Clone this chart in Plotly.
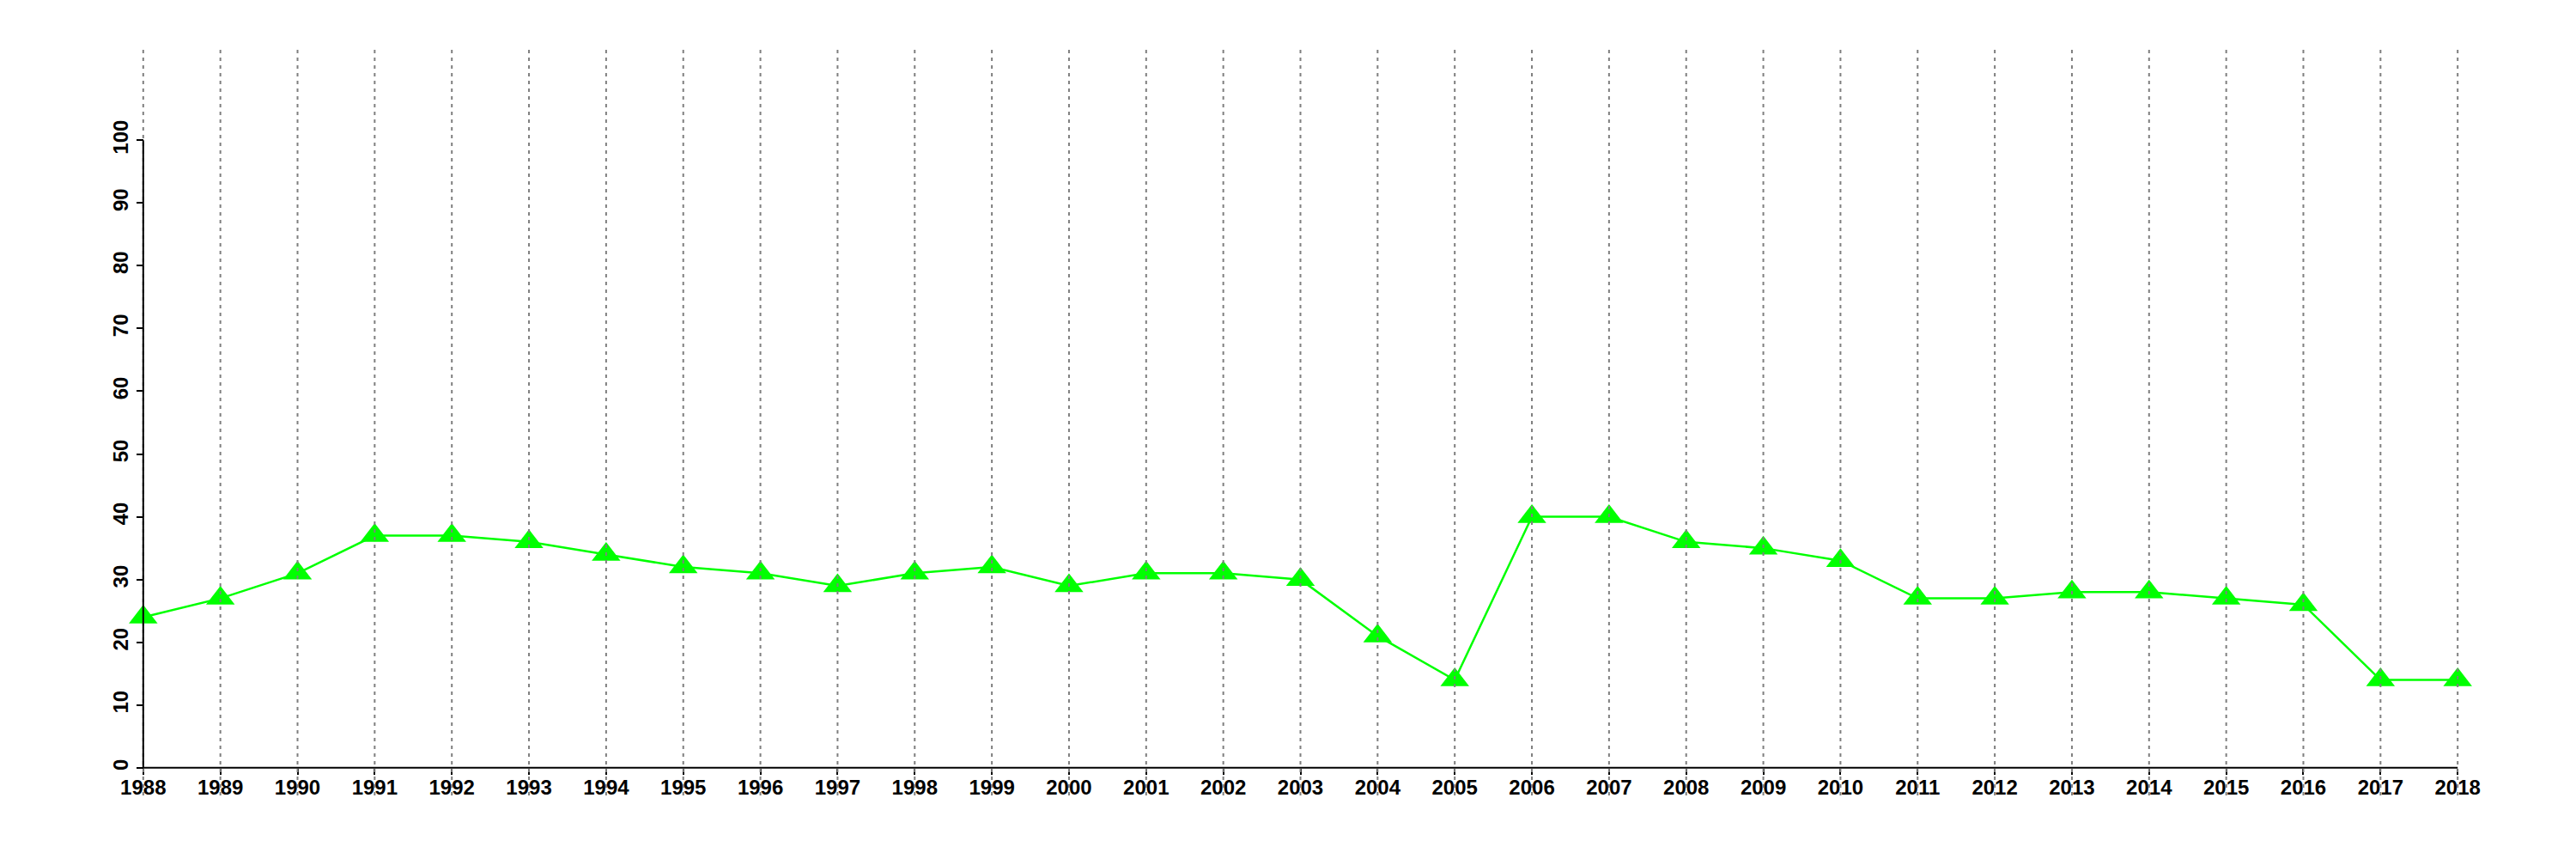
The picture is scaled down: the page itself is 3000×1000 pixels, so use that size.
import plotly.graph_objects as go

years = list(range(1988, 2019))
values = [24, 27, 31, 37, 37, 36, 34, 32, 31, 29, 31, 32, 29, 31, 31, 30, 21, 14,
          40, 40, 36, 35, 33, 27, 27, 28, 28, 27, 26, 14, 14]
y_ticks = list(range(0, 101, 10))

x_range = [years[0] - 1.2, years[-1] + 1.2]
y_range = [-4.4, 114.4]

fig = go.Figure()
fig.add_trace(go.Scatter(
    x=years, y=values, mode="lines+markers",
    line=dict(color="#00ff00", width=2.5),
    marker=dict(symbol="triangle-up", size=29, color="#00ff00", line=dict(width=0)),
    showlegend=False, hoverinfo="skip",
))

shapes = []
for yr in years:
    shapes.append(dict(type="line", xref="x", yref="paper", x0=yr, x1=yr, y0=0, y1=1,
                       line=dict(color="#7f7f7f", width=2, dash="4px,5px"), layer="above"))
shapes.append(dict(type="line", xref="x", yref="y", x0=years[0], x1=years[-1], y0=0, y1=0,
                   line=dict(color="black", width=2), layer="above"))
shapes.append(dict(type="line", xref="x", yref="y", x0=years[0], x1=years[0], y0=y_ticks[0], y1=y_ticks[-1],
                   line=dict(color="black", width=2), layer="above"))

font = dict(family="Liberation Sans", size=24, color="black", weight="bold")
fig.update_layout(
    width=3000, height=1000,
    margin=dict(l=51, r=38, t=50, b=82, pad=0),
    paper_bgcolor="white", plot_bgcolor="white",
    shapes=shapes,
    xaxis=dict(range=x_range, tickmode="array", tickvals=years, ticktext=[str(y) for y in years],
               showgrid=False, zeroline=False, showline=False, automargin=False,
               ticks="outside", ticklen=7, tickwidth=2, tickcolor="black",
               tickfont=font, anchor="free", ticklabelstandoff=-6,
               position=(0 - y_range[0]) / (y_range[1] - y_range[0])),
    yaxis=dict(range=y_range, tickmode="array", tickvals=y_ticks, ticktext=[str(v) for v in y_ticks],
               showgrid=False, zeroline=False, showline=False, automargin=False,
               ticks="outside", ticklen=8, tickwidth=2, tickcolor="black",
               tickfont=font, tickangle=-90, anchor="free",
               position=(years[0] - x_range[0]) / (x_range[1] - x_range[0])),
)

fig.write_html("out.html")
